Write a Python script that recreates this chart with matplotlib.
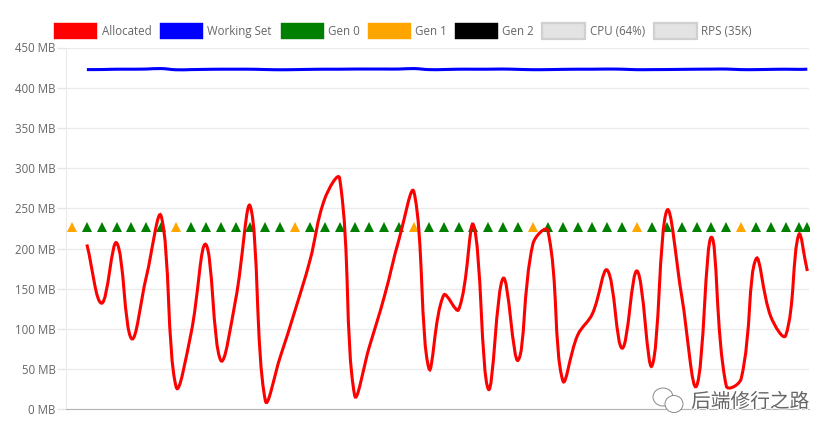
import numpy as np
import matplotlib
matplotlib.use("Agg")
import matplotlib.pyplot as plt
from matplotlib.patches import PathPatch, Rectangle, Ellipse
from matplotlib.path import Path
import matplotlib.patheffects as pe

# sample positions (one tick per GC sample), last two came in close together
sample_x = list(range(1, 49)) + [48.87, 49.45]
allocated = [205, 132, 207, 88, 165, 240, 28, 94, 205, 61, 136, 252, 11, 65, 123, 185,
             262, 287, 18, 78, 140, 212, 270, 51, 142, 124, 229, 25, 163, 61, 206, 222,
             36, 92, 119, 173, 76, 172, 54, 247, 141, 29, 214, 29, 38, 187, 115, 92, 217, 172]
working_set = [422.5, 422.6, 423, 423, 423.2, 423.8, 422.3, 422.5, 422.8, 423, 423, 423, 422.6, 422.3, 422.5,
               422.8, 423, 423, 423.2, 423.2, 423.2, 423.2, 423.8, 422.5, 422.6, 423, 423, 423, 423.2, 422.8,
               422.4, 422.5, 422.8, 423, 423, 423.2, 423, 422.4, 422.5, 422.6, 422.8, 423, 423.1, 423.2, 422.5,
               422.5, 422.8, 423, 422.8, 423]

gen0_x = [1, 2, 3, 4, 5, 6, 8, 9, 10, 11, 12, 13, 14, 16, 17, 18, 19, 20, 21, 22, 24, 25, 26, 27, 28, 29, 30,
          32, 33, 34, 35, 36, 37, 39, 40, 41, 42, 43, 44, 46, 47, 48, 48.87, 49.45]
gen1_x = [0, 7, 15, 23, 31, 38, 45]
gc_level = 227

yticks = [0, 50, 100, 150, 200, 250, 300, 350, 400, 450]
legend_labels = ['Allocated', 'Working Set', 'Gen 0', 'Gen 1', 'Gen 2', 'CPU (64%)', 'RPS (35K)']
legend_colors = ['red', 'blue', 'green', 'orange', 'black', '#e3e3e3', '#e3e3e3']
legend_lefts = [54.5, 160, 281, 368, 455, 542, 654]

W, H = 837, 438
BOX_W = 43
PX_X = 14.87          # pixels per sample
PX_Y = 361.8 / 450    # pixels per MB


def spline_path(xs, ys, t=0.4):
    # same bezier smoothing as the web chart (tension 0.4)
    xs = np.array(xs, dtype=float)
    ys = np.array(ys, dtype=float)
    n = len(xs)
    c1 = []
    c2 = []
    for i in range(n):
        p = max(i - 1, 0)
        q = min(i + 1, n - 1)
        d01 = np.hypot((xs[i] - xs[p]) * PX_X, (ys[i] - ys[p]) * PX_Y)
        d12 = np.hypot((xs[q] - xs[i]) * PX_X, (ys[q] - ys[i]) * PX_Y)
        total = d01 + d12
        fa = t * d01 / total
        fb = t * d12 / total
        c1.append((xs[i] - fa * (xs[q] - xs[p]), ys[i] - fa * (ys[q] - ys[p])))
        c2.append((xs[i] + fb * (xs[q] - xs[p]), ys[i] + fb * (ys[q] - ys[p])))
    verts = [(xs[0], ys[0])]
    codes = [Path.MOVETO]
    for i in range(1, n):
        verts += [c2[i - 1], c1[i], (xs[i], ys[i])]
        codes += [Path.CURVE4] * 3
    return Path(verts, codes)


def fx(px):
    return px / W


def fy(py):
    return 1 - py / H


plt.rcParams['font.family'] = ['Open Sans', 'DejaVu Sans']

fig = plt.figure(figsize=(W / 100, H / 100), dpi=100)
ax = fig.add_axes([fx(66), fy(409.3), (809 - 66) / W, (409.3 - 47.5) / H])

ax.plot(gen0_x, [gc_level] * len(gen0_x), ls='none', marker='^', ms=7.2, mew=0, color='green', zorder=3)
ax.plot(gen1_x, [gc_level] * len(gen1_x), ls='none', marker='^', ms=7.2, mew=0, color='orange', zorder=3)

ax.add_patch(PathPatch(spline_path(sample_x, working_set), fc='none', ec='blue', lw=2.2, zorder=4))
ax.add_patch(PathPatch(spline_path(sample_x, allocated), fc='none', ec='red', lw=2.2, zorder=5))

ax.set_xlim((66 - 72) / PX_X, (809 - 72) / PX_X)
ax.set_ylim(0, 450)
ax.set_xticks([])
ax.set_yticks(yticks)
ax.set_yticklabels([f'{v} MB' for v in yticks], fontsize=8.3, color='#666666')
ax.tick_params(axis='y', length=6.5, width=1, color='#e6e6e6', pad=1)
ax.grid(axis='y', color='#ebebeb', lw=1)
ax.set_axisbelow(True)
for side in ['top', 'right']:
    ax.spines[side].set_visible(False)
ax.spines['left'].set_color('#ebebeb')
ax.spines['bottom'].set_color('#b3b3b3')

# legend drawn by hand, chart.js spacing is not what ax.legend gives
for label, color, left in zip(legend_labels, legend_colors, legend_lefts):
    grey = color == '#e3e3e3'
    fig.add_artist(Rectangle((fx(left), fy(38.5)), BOX_W / W, 15 / H, transform=fig.transFigure,
                             fc=color, ec='#d0d0d0' if grey else color, lw=1.6 if grey else 0.3))
    fig.text(fx(left + BOX_W + 4.5), fy(31.5), label, fontsize=8.3, color='#666666', va='center', ha='left')

# wechat watermark
fig.text(fx(691), fy(402), '后端修行之路', fontsize=14.2, color='#666666', va='center', ha='left',
         family=['Noto Sans CJK SC', 'DejaVu Sans'],
         path_effects=[pe.withStroke(linewidth=1.5, foreground='white')], zorder=10)
for cx, cy, ew, eh in [(663, 397, 20, 18), (674, 404, 18, 17)]:
    fig.add_artist(Ellipse((fx(cx), fy(cy)), ew / W, eh / H, transform=fig.transFigure,
                           fc='white', ec='#888888', lw=0.7, zorder=10))

fig.savefig('out.png', dpi=100)
